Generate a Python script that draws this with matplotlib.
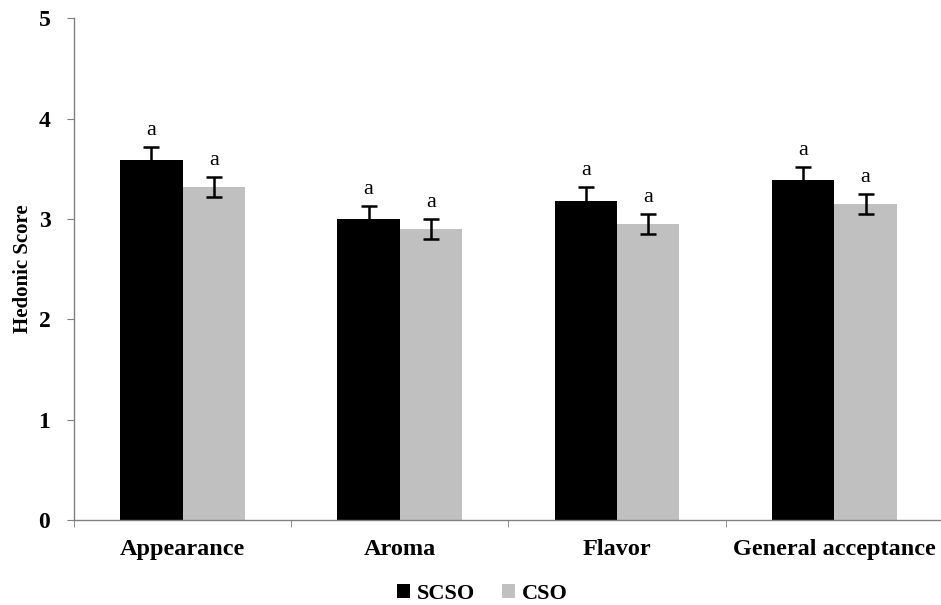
import numpy as np
import matplotlib
matplotlib.use("Agg")
import matplotlib.pyplot as plt

categories = ["Appearance", "Aroma", "Flavor", "General acceptance"]
scso = [3.59, 3.00, 3.18, 3.39]
scso_err = [0.13, 0.13, 0.14, 0.13]
cso = [3.32, 2.90, 2.95, 3.15]
cso_err = [0.10, 0.10, 0.10, 0.10]
letters_scso = ["a", "a", "a", "a"]
letters_cso = ["a", "a", "a", "a"]

plt.rcParams["font.family"] = ["Liberation Serif", "DejaVu Serif"]

fig = plt.figure(figsize=(9.41, 6.05), dpi=100)
ax = fig.add_axes([0.0786, 0.1405, 0.9235, 0.8295])

x = np.arange(len(categories))
w = 0.287
ekw = dict(elinewidth=1.8, capthick=1.8, capsize=6, ecolor="black")
ax.bar(x - w / 2, scso, w, yerr=scso_err, color="black", label="SCSO", error_kw=ekw)
ax.bar(x + w / 2, cso, w, yerr=cso_err, color="#c0c0c0", label="CSO", error_kw=ekw)

for i in range(len(categories)):
    ax.text(x[i] - w / 2, scso[i] + scso_err[i] + 0.07, letters_scso[i],
            ha="center", va="bottom", fontsize=16)
    ax.text(x[i] + w / 2, cso[i] + cso_err[i] + 0.07, letters_cso[i],
            ha="center", va="bottom", fontsize=16)

ax.set_xlim(-0.5, len(categories) - 0.5)
ax.set_ylim(0, 5)
ax.set_yticks([0, 1, 2, 3, 4, 5])
ax.set_xticks(x)
ax.set_xticklabels(categories, fontsize=17.5, fontweight="bold")
ax.set_xticks(np.arange(len(categories) + 1) - 0.5, minor=True)
ax.tick_params(axis="x", which="major", length=0, pad=14)
ax.tick_params(axis="x", which="minor", length=5, color="#808080", direction="out")
ax.tick_params(axis="y", length=5, color="#808080", labelsize=17, pad=12)
for lab in ax.get_yticklabels():
    lab.set_fontweight("bold")
ax.set_ylabel("Hedonic Score", fontsize=15, fontweight="bold", labelpad=4)

for s in ["top", "right"]:
    ax.spines[s].set_visible(False)
for s in ["left", "bottom"]:
    ax.spines[s].set_color("#808080")
    ax.spines[s].set_linewidth(1.0)

ax.legend(loc="upper center", bbox_to_anchor=(0.47, -0.128), ncol=2, frameon=False,
          prop={"weight": "bold", "size": 16}, handlelength=0.6, handleheight=0.6,
          handletextpad=0.3, columnspacing=1.2, borderaxespad=0, borderpad=0)

fig.savefig("out.png", dpi=100)
